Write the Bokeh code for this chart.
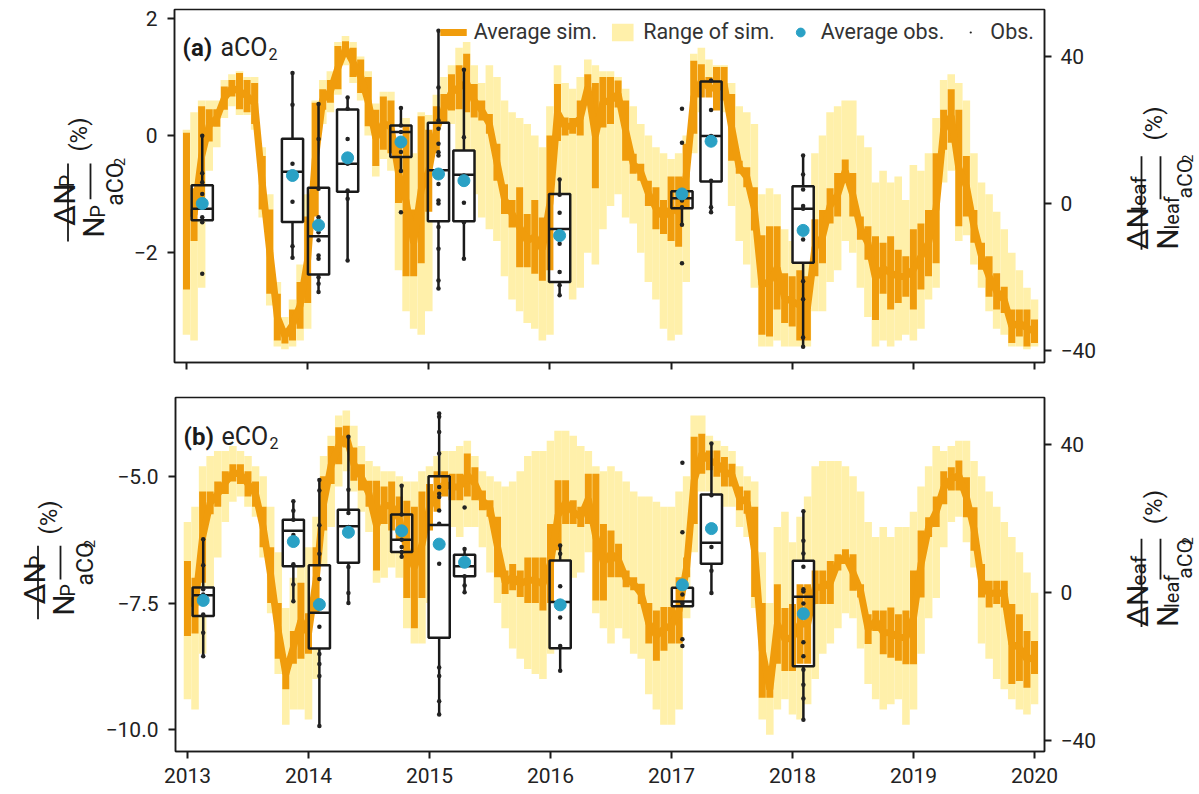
from math import pi
from bokeh.plotting import figure
from bokeh.models import Range1d, LinearAxis, FixedTicker, Legend, LegendItem, Label
from bokeh.layouts import column, row
from bokeh.core.properties import value
from bokeh.embed import file_html
from bokeh.resources import INLINE

FONT = "Roboto"
ORANGE = "#f09c0c"
YELLOW = "#fff0aa"
BLUE = "#2aa1c5"
INK = "#1a1a1a"
TICK_COLOR = "#222222"

# ---------------- time axis ----------------
T_START = 2013.0
T_STEP = 1 / 16
YEARS = [2013, 2014, 2015, 2016, 2017, 2018, 2019, 2020]
X_RANGE = (2012.901, 2020.0825)

# ---------------- panel (a) aCO2 : simulations (left axis, %) ----------------
sim_a_lo = [
    -2.63, -1.8, -1.2, -0.1, 0.15, 0.44, 0.67, 0.45, 0.4, 0.2, -1.26, -2.7, -3.5, -3.55, -3.5, -3.3,
    -2.86, -1.38, 0.44, 0.56, 0.79, 1.36, 1.0, 0.73, 0.16, -0.52, -0.24, -0.3, -1.15, -2.4, -2.4, -2.18,
    -1.3, -0.3, 0.2, 0.43, 0.45, 0.4, 0.31, 0.26, 0.03, -0.77, -1.34, -1.57, -2.25, -2.25, -2.36, -2.48,
    -2.3, -0.09, 0.0, 0.03, 0.0, 0.6, -0.9, 0.14, 0.2, 0.48, -0.43, -0.65, -0.77, -1.2, -1.6, -1.68,
    -1.8, -1.9, -1.22, 0.03, 0.65, 0.65, 0.43, 0.6, -0.43, -0.65, -0.88, -1.62, -3.4, -3.43, -2.97, -3.2,
    -3.26, -3.5, -3.5, -2.4, -2.18, -1.5, -1.38, -0.8, -1.38, -1.78, -2.12, -3.15, -2.7, -2.97, -2.86, -2.75,
    -2.97, -2.63, -2.4, -2.18, -0.24, -0.12, -1.55, -1.38, -1.83, -2.29, -2.75, -2.97, -3.03, -3.54, -3.43, -3.6,
    -3.54,
]
sim_a_hi = [
    0.05, -0.9, 0.5, 0.45, 0.45, 0.84, 0.95, 1.07, 0.95, 0.9, -0.35, -1.26, -2.7, -3.3, -2.97, -2.5,
    -1.38, 0.56, 0.79, 0.95, 1.53, 1.61, 1.5, 1.3, 1.0, 0.44, 0.67, 0.6, -0.12, 0.16, -1.26, 0.33,
    0.1, 0.5, 0.71, 1.05, 1.2, 1.4, 0.88, 0.6, 0.37, -0.14, -0.83, -1.1, -0.88, -1.34, -1.1, -1.4,
    0.0, 0.88, 0.31, 0.3, 0.6, 1.05, 0.9, 1.0, 1.0, 0.94, 0.6, -0.31, -0.48, -0.77, -0.88, -1.1,
    -0.7, -0.7, -0.14, 1.28, 1.22, 1.0, 1.17, 1.17, 0.71, -0.43, -0.54, -0.88, -1.7, -1.55, -1.55, -2.35,
    -2.4, -2.3, -2.4, -1.43, -1.27, -0.9, -0.64, -0.41, -0.64, -1.38, -1.55, -1.72, -1.83, -1.72, -1.95, -2.06,
    -1.6, -1.5, -1.27, -0.3, 0.44, 0.79, 0.44, -0.35, -1.27, -1.83, -2.06, -2.35, -2.58, -2.97, -2.97, -2.97,
    -3.14,
]
rng_a_lo = [
    -3.4, -3.5, -2.6, -0.6, -0.2, 0.3, 0.5, 0.35, 0.35, 0.1, -1.4, -2.9, -3.6, -3.65, -3.6, -3.5,
    -3.3, -2.0, 0.2, 0.4, 0.7, 1.2, 0.9, 0.6, 0.0, -0.7, -0.4, -0.6, -2.3, -3.0, -3.3, -3.4,
    -3.0, -1.4, -0.3, 0.2, -0.5, -0.8, -1.0, -1.4, -1.6, -1.8, -2.4, -2.8, -3.0, -3.2, -3.3, -3.5,
    -3.4, -1.5, -2.5, -2.8, -2.6, -2.0, -2.2, -1.6, -1.2, -1.0, -1.4, -1.5, -2.0, -2.5, -2.8, -3.3,
    -3.5, -3.4, -2.5, -0.3, 0.4, 0.5, 0.3, 0.4, -1.2, -1.8, -2.2, -2.6, -3.6, -3.6, -3.5, -3.6,
    -3.6, -3.6, -3.6, -3.0, -3.0, -2.5, -2.3, -1.8, -2.0, -2.6, -3.1, -3.6, -3.5, -3.6, -3.5, -3.4,
    -3.5, -3.3, -2.8, -2.6, -0.8, -0.6, -1.8, -1.7, -2.2, -2.6, -3.0, -3.3, -3.4, -3.6, -3.6, -3.65,
    -3.6,
]
rng_a_hi = [
    0.1, 0.4, 0.6, 0.6, 0.6, 0.95, 1.05, 1.1, 1.0, 1.0, -0.2, -1.0, -2.5, -3.1, -2.8, -2.2,
    -1.0, 0.6, 0.95, 1.1, 1.6, 1.7, 1.6, 1.35, 1.1, 0.55, 0.75, 0.75, 0.0, 0.3, -0.3, 0.4,
    0.35, 0.7, 1.0, 1.2, 1.5, 1.6, 1.2, 0.9, 1.2, 1.0, 0.6, 0.4, 0.3, 0.2, 0.0, -0.2,
    0.5, 1.2, 0.9, 0.8, 1.0, 1.3, 1.2, 1.1, 1.1, 1.0, 0.8, 0.5, 0.2, 0.0, -0.2, -0.3,
    -0.4, -0.3, 0.0, 1.4, 1.5, 1.3, 1.2, 1.2, 0.9, 0.5, 0.4, 0.2, -1.0, -0.9, -1.0, -1.6,
    -1.8, -1.5, -1.0, -0.3, 0.0, 0.4, 0.5, 0.6, 0.6, 0.0, -0.2, -0.8, -0.6, -0.8, -0.7, -1.1,
    -0.5, -0.6, -0.3, 0.3, 0.95, 1.05, 0.9, 0.6, -0.3, -0.8, -1.0, -1.3, -1.6, -2.0, -2.3, -2.6,
    -2.8,
]

# ---------------- panel (b) eCO2 : simulations (left axis, %) ----------------
sim_b_lo = [
    -8.15, -8.1, -7.1, -5.75, -5.6, -5.35, -5.1, -5.15, -5.4, -5.6, -6.4, -7.5, -8.6, -9.2, -8.7, -8.6,
    -8.5, -7.7, -6.07, -5.15, -4.76, -4.43, -5.09, -5.28, -5.6, -6.86, -5.94, -6.07, -6.27, -7.4, -8.0, -7.4,
    -6.07, -5.7, -5.4, -5.47, -5.47, -5.4, -5.47, -5.67, -5.8, -6.99, -7.32, -7.25, -7.38, -7.5, -7.5, -7.65,
    -7.5, -6.46, -5.94, -5.94, -6.0, -5.94, -7.45, -7.45, -6.99, -6.99, -7.19, -7.25, -7.52, -8.3, -8.64, -8.44,
    -8.3, -8.3, -6.99, -5.94, -4.95, -4.88, -5.01, -5.2, -5.2, -5.67, -5.74, -7.38, -9.37, -9.37, -8.7, -8.84,
    -8.84, -8.7, -8.7, -7.52, -7.52, -7.52, -6.86, -6.73, -7.26, -7.39, -8.31, -8.05, -8.51, -8.58, -8.64, -8.71,
    -8.71, -7.39, -6.2, -6.0, -5.55, -5.28, -5.28, -5.81, -6.47, -7.39, -7.59, -7.52, -7.59, -9.1, -9.04, -9.17,
    -8.9,
]
sim_b_hi = [
    -6.67, -7.0, -5.3, -5.3, -5.1, -4.9, -4.76, -4.76, -4.9, -5.1, -5.6, -6.4, -7.5, -8.6, -8.05, -7.1,
    -7.7, -6.4, -5.0, -4.4, -4.03, -4.0, -4.43, -4.76, -5.09, -5.09, -5.2, -5.1, -5.4, -5.48, -5.6, -5.3,
    -5.15, -4.9, -4.9, -4.95, -4.95, -4.55, -4.82, -5.28, -5.47, -5.8, -6.86, -6.73, -6.86, -6.6, -6.6, -6.6,
    -5.94, -5.08, -5.08, -5.47, -5.6, -4.95, -4.95, -5.94, -6.07, -6.33, -6.86, -6.99, -7.12, -7.5, -7.65, -7.58,
    -7.58, -6.99, -6.6, -4.22, -4.16, -4.49, -4.49, -4.62, -4.75, -5.2, -5.28, -5.6, -7.5, -9.04, -7.13, -7.6,
    -7.52, -7.13, -7.13, -6.86, -6.86, -6.67, -6.54, -6.44, -6.54, -7.13, -7.72, -7.65, -7.65, -7.59, -7.72, -7.65,
    -6.86, -6.07, -5.81, -5.4, -4.9, -4.82, -4.69, -5.02, -5.61, -6.73, -7.06, -7.06, -7.06, -7.52, -7.72, -8.05,
    -8.25,
]
rng_b_lo = [
    -9.4, -9.6, -8.5, -7.3, -6.6, -5.9, -5.5, -5.4, -5.6, -5.8, -6.6, -7.7, -8.9, -9.9, -9.6, -9.6,
    -9.8, -9.0, -7.0, -6.0, -5.2, -4.9, -5.3, -5.7, -6.1, -7.1, -7.0, -6.8, -7.0, -8.0, -8.3, -8.3,
    -7.5, -7.0, -6.2, -6.0, -6.2, -6.0, -6.0, -6.4, -6.9, -7.5, -8.0, -8.4, -8.6, -8.8, -8.9, -9.0,
    -8.5, -8.0, -7.3, -7.0, -6.9, -6.5, -7.7, -8.0, -8.3, -8.0, -8.2, -8.5, -8.6, -9.3, -9.6, -9.9,
    -9.9, -9.6, -7.8, -6.5, -5.3, -5.3, -5.4, -5.6, -5.6, -6.0, -6.2, -7.6, -9.8, -10.1, -9.6, -9.4,
    -9.7, -9.8, -9.5, -9.0, -8.5, -8.3, -8.0, -7.7, -7.8, -8.4, -9.1, -9.4, -9.6, -9.5, -9.4, -9.9,
    -9.6, -8.5, -7.8, -7.4, -6.4, -5.9, -5.8, -6.3, -6.8, -8.3, -8.6, -9.0, -9.2, -9.4, -9.6, -9.7,
    -9.5,
]
rng_b_hi = [
    -5.9, -5.6, -4.8, -4.6, -4.5, -4.5, -4.4, -4.5, -4.6, -4.8, -5.0, -5.6, -6.5, -7.6, -7.0, -6.6,
    -6.4, -5.8, -4.6, -4.2, -3.8, -3.7, -4.0, -4.4, -4.7, -4.8, -4.9, -4.9, -5.0, -5.1, -5.1, -4.9,
    -4.8, -4.6, -4.5, -4.5, -4.4, -4.3, -4.6, -4.9, -5.0, -5.1, -5.2, -5.1, -4.9, -4.6, -4.5, -4.5,
    -4.3, -4.1, -4.1, -4.2, -4.4, -4.5, -4.8, -4.9, -4.8, -4.9, -5.1, -5.3, -5.4, -5.4, -5.5, -5.6,
    -5.6, -5.3, -5.0, -3.8, -3.8, -4.2, -4.3, -4.4, -4.5, -4.8, -5.0, -5.1, -6.5, -7.5, -6.0, -5.7,
    -6.3, -5.8, -5.4, -4.8, -4.7, -4.7, -4.7, -4.8, -5.0, -5.3, -5.9, -6.2, -6.0, -6.2, -6.0, -6.0,
    -5.7, -5.2, -4.8, -4.4, -4.5, -4.4, -4.3, -4.3, -4.7, -5.0, -5.3, -5.6, -5.9, -6.2, -6.5, -6.9,
    -7.3,
]

# ---------------- observations (right axis, %) ----------------
box_x = [2013.13, 2013.875, 2014.09, 2014.33, 2014.77, 2015.08, 2015.29, 2016.08, 2017.09, 2017.33, 2018.09]
BOX_W = 0.175

q3_a = [4.96, 17.6, 4.3, 25.5, 21.2, 21.9, 14.4, 2.6, 3.3, 33.1, 4.7]
med_a = [-1.45, 8.6, -8.9, 10.8, 19.4, 9.0, 7.8, -6.9, 1.4, 18.3, -1.4]
q1_a = [-4.53, -5.0, -19.3, 3.2, 12.6, -4.8, -4.8, -21.3, -1.3, 6.0, -16.1]
whi_a = [18.4, 35.4, 27.0, 29.1, 25.9, 47.2, 36.3, 6.5, 3.3, 33.4, 13.0]
wlo_a = [-5.2, -14.7, -24.0, -15.2, 8.8, -23.3, -15.0, -24.9, -5.8, -2.4, -38.9]
mean_a = [0.0, 7.6, -5.9, 12.4, 16.7, 8.0, 6.2, -8.7, 2.6, 16.9, -7.3]
obs_a = [
    [18.4, 8.2, 5.8, 2.6, 0.8, -3.7, -5.1, -19.1],
    [35.4, 26.8, 10.8, 0.5, -11.6, -14.7],
    [27.0, 17.5, 4.0, -3.7, -7.8, -10.0, -14.1, -15.0, -20.0, -21.8, -24.0],
    [28.8, 25.7, 17.5, 10.8, 3.5, 1.3, -15.5],
    [25.9, 21.2, 19.4, 14.0, 8.8, -2.4],
    [46.9, 31.5, 22.5, 20.3, 16.2, 13.9, 13.0, 5.3, 0.8, 0.0, -6.4, -12.3, -20.9, -23.1],
    [36.3, 18.0, 7.6, 0.2, -5.1, -15.0],
    [6.5, 2.4, -2.5, -10.9, -18.6, -22.2, -24.9],
    [25.7, 16.5, 3.1, 1.7, 0.8, -1.0, -5.8, -16.2],
    [33.4, 25.4, 18.3, 6.2, -1.0, -2.4],
    [13.0, 7.9, 3.8, -0.7, -1.4, -7.4, -9.8, -21.1, -26.0, -36.4, -38.9],
]

q3_b = [1.4, 19.7, 7.4, 22.4, 21.1, 31.4, 10.2, 8.7, 1.3, 26.5, 8.6]
med_b = [-0.7, 16.7, -5.4, 17.9, 14.3, 18.3, 7.1, -2.5, -2.4, 13.5, -1.1]
q1_b = [-6.3, 7.1, -15.1, 8.1, 11.0, -12.2, 4.4, -15.0, -3.7, 7.8, -19.9]
whi_b = [14.5, 24.7, 30.7, 42.3, 28.9, 48.6, 11.8, 12.7, 1.3, 40.3, 22.0]
wlo_b = [-17.2, -2.3, -36.1, -3.0, 9.7, -32.8, 0.1, -21.1, -3.7, -0.1, -34.3]
mean_b = [-2.1, 13.8, -3.2, 16.3, 16.7, 13.1, 8.2, -3.3, 2.1, 17.3, -5.7]
obs_b = [
    [14.4, 7.4, 0.9, -0.5, -1.4, -5.9, -10.8, -17.2],
    [24.7, 22.1, 19.7, 15.6, 7.7, 2.2, -2.3],
    [30.4, 27.6, 18.2, 10.5, 3.7, -4.0, -9.2, -16.6, -19.3, -22.5, -36.0],
    [42.1, 27.8, 21.5, 17.7, 6.9, -0.1, -2.8],
    [28.9, 21.1, 16.7, 14.3, 12.3, 11.0, 9.7],
    [48.4, 47.5, 43.4, 37.6, 28.5, 26.7, 25.8, 22.2, 18.6, 13.2, 7.8, -20.2, -22.5, -29.3, -32.9],
    [23.0, 11.8, 8.7, 4.4, 1.9, 0.1],
    [12.7, 10.5, 1.7, -6.7, -14.4, -21.1],
    [35.1, 16.3, 1.3, -0.5, -2.9, -12.6, -14.4],
    [40.3, 26.3, 12.3, 5.9, -0.1],
    [22.0, 14.0, 10.6, 7.0, 0.9, 0.3, -2.9, -13.4, -17.2, -20.8, -24.9, -28.6, -34.3],
]

# ---------------- axis ranges / ticks ----------------
left_range_a = (-3.875, 2.154)
right_range_a = (-43.16, 52.66)
left_range_b = (-10.43, -3.445)
right_range_b = (-42.9, 52.7)
left_ticks_a = {-2: "\u22122", 0: "0", 2: "2"}
left_ticks_b = {-10: "\u221210.0", -7.5: "\u22127.5", -5: "\u22125.0"}
right_ticks = {-40: "\u221240", 0: "0", 40: "40"}
TICK_SIZE = "21px"


def style_axis(ax, ticks, overrides, standoff, size=TICK_SIZE):
    ax.ticker = FixedTicker(ticks=ticks)
    ax.major_label_overrides = overrides
    ax.axis_line_width = 1.5
    ax.axis_line_color = INK
    ax.major_tick_line_width = 2
    ax.major_tick_line_color = INK
    ax.major_tick_out = 7
    ax.major_tick_in = 0
    ax.minor_tick_line_color = None
    ax.major_label_text_font = FONT
    ax.major_label_text_font_size = size
    ax.major_label_text_color = TICK_COLOR
    ax.major_label_standoff = standoff


def make_panel(sim_lo, sim_hi, rng_lo, rng_hi, q1, med, q3, wlo, whi, mean, obs,
               yl, yr, lticks, width, height, mbl, mbt, mbb, show_x, letter, tag):
    t = [T_START + i * T_STEP for i in range(len(sim_lo))]
    mid = [(a + b) / 2 for a, b in zip(sim_lo, sim_hi)]
    p = figure(width=width, height=height, x_range=Range1d(*X_RANGE), y_range=Range1d(*yl),
               output_backend="svg", toolbar_location=None,
               min_border_left=mbl, min_border_right=61, min_border_top=mbt, min_border_bottom=mbb)
    p.extra_y_ranges = {"right": Range1d(*yr)}
    ax_r = LinearAxis(y_range_name="right")
    p.add_layout(ax_r, "right")
    p.xgrid.visible = False
    p.ygrid.visible = False
    p.outline_line_color = INK
    p.outline_line_width = 1.5
    p.background_fill_color = "white"

    style_axis(p.yaxis[0], list(lticks.keys()), lticks, 10)
    style_axis(ax_r, list(right_ticks.keys()), right_ticks, 9)
    if show_x:
        style_axis(p.xaxis[0], YEARS, {y: str(y) for y in YEARS}, 9)
    else:
        style_axis(p.xaxis[0], YEARS, {y: "" for y in YEARS}, 0, size="0px")

    left = [x - BOX_W / 2 for x in box_x]
    right = [x + BOX_W / 2 for x in box_x]

    band = p.vbar(x=t, width=T_STEP, bottom=rng_lo, top=rng_hi, fill_color=YELLOW,
                  line_color=None)
    p.quad(left=left, right=right, bottom=q1, top=q3, fill_color="white", line_color=None,
           y_range_name="right")
    p.segment(x0=t, y0=sim_lo, x1=t, y1=sim_hi, line_color=ORANGE, line_width=7)
    line = p.line(t, mid, line_color=ORANGE, line_width=7)
    p.segment(x0=box_x, y0=q3, x1=box_x, y1=whi, line_color=INK, line_width=2.5, y_range_name="right")
    p.segment(x0=box_x, y0=q1, x1=box_x, y1=wlo, line_color=INK, line_width=2.5, y_range_name="right")
    p.quad(left=left, right=right, bottom=q1, top=q3, fill_color=None, line_color=INK,
           line_width=2.5, y_range_name="right")
    p.segment(x0=left, y0=med, x1=right, y1=med, line_color=INK, line_width=2.5, y_range_name="right")
    ox, ov = [], []
    for x, vals in zip(box_x, obs):
        for v in vals:
            ox.append(x)
            ov.append(v)
    obs_r = p.scatter(ox, ov, marker="dot", size=18, line_color="#222222", fill_color="#222222",
                      y_range_name="right")
    avg_r = p.scatter(box_x, mean, size=12, color=BLUE, y_range_name="right")

    p.add_layout(Label(x=8, y=315, x_units="screen", y_units="screen", text=letter,
                       text_font=FONT, text_font_size="24px", text_font_style="bold",
                       text_color=INK, text_baseline="alphabetic"))
    p.add_layout(Label(x=46, y=315, x_units="screen", y_units="screen", text=tag,
                       text_font=FONT, text_font_size="25px", text_color="#222222",
                       text_baseline="alphabetic"))
    p.add_layout(Label(x=94, y=309, x_units="screen", y_units="screen", text="2",
                       text_font=FONT, text_font_size="16px", text_color="#222222",
                       text_baseline="alphabetic"))
    return p, line, band, avg_r, obs_r


def label_fig(width, height, x0, y0):
    # data x = page x ; data y = -(page y)
    f = figure(width=width, height=height, x_range=Range1d(x0, x0 + width),
               y_range=Range1d(-(y0 + height), -y0), output_backend="svg", toolbar_location=None,
               min_border=0, x_axis_location=None, y_axis_location=None)
    f.outline_line_color = None
    f.xgrid.visible = False
    f.ygrid.visible = False
    return f


LEFT_PIECES = [("\u0394N", 64, 236, 30), ("P", 66, 194, 20), ("N", 93, 249, 30), ("P", 97, 227, 20),
               ("aCO", 115, 214, 23), ("2", 119, 171, 15), ("(%)", 78, 155, 24)]
LEFT_BARS = [(67.5, 168, 253), (90, 168, 207)]
RIGHT_PIECES = [("\u0394N", 1137, 262, 30), ("leaf", 1138, 220, 21), ("N", 1167, 262, 30),
                ("leaf", 1171, 240, 20), ("aCO", 1184, 206, 21), ("2", 1187, 167, 14),
                ("(%)", 1153, 143, 24)]
RIGHT_BARS = [(1141, 160, 262), (1160, 160, 207)]


def add_frac(f, pieces, bars, dx, dy):
    for txt, x, y, size in pieces:
        f.text(x=[x + dx], y=[-(y + dy)], text=[txt], angle=pi / 2, angle_units="rad",
               text_font=value(FONT), text_font_size=f"{size}px", text_align="left",
               text_baseline="alphabetic", text_color=INK)
    for x, y0, y1 in bars:
        f.segment(x0=[x + dx], y0=[-(y0 + dy)], x1=[x + dx], y1=[-(y1 + dy)], line_color=INK,
                  line_width=1.8)


# ---------------- panel a ----------------
H_A, H_B = 385, 409
LW_A, LW_B, RW = 128, 102, 94
pa, line_a, band_a, avg_a, obs_ra = make_panel(
    sim_a_lo, sim_a_hi, rng_a_lo, rng_a_hi, q1_a, med_a, q3_a, wlo_a, whi_a, mean_a, obs_a,
    left_range_a, right_range_a, left_ticks_a, 1199 - LW_A - RW, H_A, 174 - LW_A, 9, 23, False,
    "(a)", "aCO")

legend = Legend(items=[LegendItem(label="Average sim.", renderers=[line_a]),
                       LegendItem(label="Range of sim.", renderers=[band_a]),
                       LegendItem(label="Average obs.", renderers=[avg_a]),
                       LegendItem(label="Obs.", renderers=[obs_ra])],
                orientation="horizontal", location="top_right")
legend.label_text_font = FONT
legend.label_text_font_size = "21.5px"
legend.label_text_color = "#333333"
legend.glyph_width = 27
legend.glyph_height = 22
legend.label_height = 22
legend.label_standoff = 7
legend.spacing = 12
legend.padding = 0
legend.margin = 10
legend.border_line_color = None
legend.background_fill_alpha = 0
pa.add_layout(legend)

la_left = label_fig(LW_A, H_A, 0, 0)
add_frac(la_left, LEFT_PIECES, LEFT_BARS, 0, 0)
la_right = label_fig(RW, H_A, 1199 - RW, 0)
add_frac(la_right, RIGHT_PIECES, RIGHT_BARS, 0, 0)

# ---------------- panel b ----------------
pb, line_b, band_b, avg_b, obs_rb = make_panel(
    sim_b_lo, sim_b_hi, rng_b_lo, rng_b_hi, q1_b, med_b, q3_b, wlo_b, whi_b, mean_b, obs_b,
    left_range_b, right_range_b, left_ticks_b, 1199 - LW_B - RW, H_B, 174 - LW_B, 12, 43, True,
    "(b)", "eCO")

DY = 388.3
lb_left = label_fig(LW_B, H_B, 0, H_A)
add_frac(lb_left, LEFT_PIECES, LEFT_BARS, -30, DY)
lb_right = label_fig(RW, H_B, 1199 - RW, H_A)
add_frac(lb_right, RIGHT_PIECES, RIGHT_BARS, 0, DY)

layout = column(row(la_left, pa, la_right), row(lb_left, pb, lb_right))

with open("out.html", "w") as fh:
    fh.write(file_html(layout, INLINE))
